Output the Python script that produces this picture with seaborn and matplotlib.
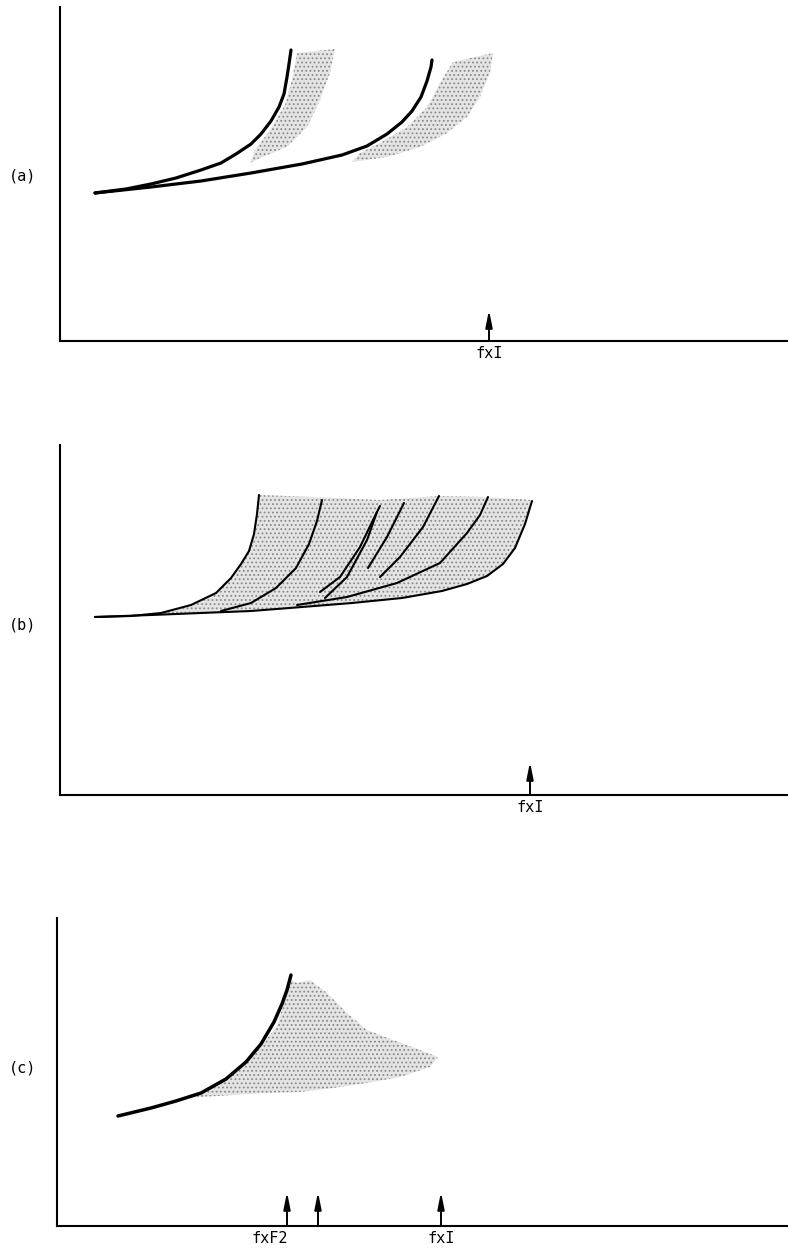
import numpy as np
import matplotlib
matplotlib.use("Agg")
import matplotlib.pyplot as plt
import seaborn as sns

# Schematic curves, arbitrary units: x measured from the y-axis, y from the x-axis
# ---- panel (a) ----
a_left_x = [35, 66, 91, 116, 141, 161, 176, 191, 201, 211, 219, 224, 227, 229, 231]
a_left_y = [148, 152, 157, 163, 171, 178, 187, 197, 207, 220, 234, 247, 264, 277, 291]
a_right_x = [35, 91, 141, 191, 242, 282, 307, 327, 342, 352, 361, 367, 371, 372]
a_right_y = [148, 154, 160, 168, 177, 186, 195, 207, 219, 230, 244, 260, 274, 281]
a_shade1_x = [237, 232, 225, 210, 195, 190, 200, 227, 247, 260, 270, 275]
a_shade1_y = [288, 261, 236, 211, 191, 178, 183, 194, 214, 241, 268, 292]
a_shade2_x = [393, 380, 367, 347, 320, 300, 292, 327, 360, 387, 407, 420, 430, 433]
a_shade2_y = [279, 258, 234, 214, 198, 188, 179, 184, 194, 208, 224, 244, 268, 288]
a_markers = [429]
a_marker_labels = ["fxI"]

# ---- panel (b) ----
b_base_x = [35, 91, 141, 191, 242, 292, 342, 382, 407, 427, 443, 455, 465, 472]
b_base_y = [178, 180, 182, 184, 188, 192, 197, 204, 211, 219, 231, 247, 271, 294]
b_c1_x = [35, 71, 101, 131, 156, 171, 181, 189, 194, 197, 199]
b_c1_y = [178, 179, 182, 190, 202, 217, 231, 244, 261, 281, 300]
b_c2_x = [161, 191, 216, 236, 249, 257, 262]
b_c2_y = [184, 192, 207, 227, 251, 274, 295]
b_c3a_x = [260, 280, 300, 313, 320]
b_c3a_y = [203, 218, 248, 275, 289]
b_c3b_x = [265, 287, 307, 317]
b_c3b_y = [197, 218, 255, 283]
b_c4_x = [308, 327, 344]
b_c4_y = [227, 258, 292]
b_c5_x = [320, 340, 363, 379]
b_c5_y = [218, 238, 268, 299]
b_c6_x = [237, 287, 337, 380, 407, 420, 428]
b_c6_y = [190, 198, 212, 232, 262, 280, 298]
b_top_x = [199, 253, 320, 379, 427, 472]
b_top_y = [300, 298, 295, 299, 298, 295]
b_markers = [470]
b_marker_labels = ["fxI"]

# ---- panel (c) ----
c_curve_x = [61, 94, 119, 144, 169, 189, 204, 217, 225, 230, 234]
c_curve_y = [110, 118, 125, 133, 147, 164, 182, 204, 222, 236, 251]
c_shade_x = [240, 253, 270, 290, 310, 336, 363, 381, 373, 343, 310, 276, 243,
             210, 176, 143, 133, 150, 176, 203, 220, 228, 234]
c_shade_y = [243, 246, 233, 213, 196, 186, 176, 169, 159, 149, 143, 138, 134,
             133, 131, 129, 128, 137, 153, 178, 200, 226, 246]
c_markers = [230, 261, 384]
c_marker_labels = ["fxF2", "", "fxI"]

sns.set_style("white")
plt.rcParams["font.family"] = ["DejaVu Sans Mono", "DejaVu Sans"]
plt.rcParams["hatch.linewidth"] = 0.8
plt.rcParams["text.color"] = "black"

W, H = 788, 1253
fig = plt.figure(figsize=(W / 100, H / 100), dpi=100)

# axes boxes in pixels: (left, x-axis row, y-axis top)
panels = {
    "(a)": (60, 341, 7),
    "(b)": (60, 795, 445),
    "(c)": (57, 1226, 918),
}
label_rows = {"(a)": 176, "(b)": 625, "(c)": 1068}

axes = {}
for name, (left, bottom, top) in panels.items():
    ax = fig.add_axes([left / W, 1 - bottom / H, (W - left) / W, (bottom - top) / H])
    ax.set_xlim(0, W - left)
    ax.set_ylim(0, bottom - top)
    ax.set_xticks([])
    ax.set_yticks([])
    sns.despine(ax=ax)
    for s in ("left", "bottom"):
        ax.spines[s].set_linewidth(1.5)
        ax.spines[s].set_color("black")
    ax.text(23 - left, bottom - label_rows[name], name, ha="center", va="center",
            fontsize=11, color="black", clip_on=False)
    axes[name] = ax

shade_kw = dict(facecolor="#e4e4e4", edgecolor="#8a8a8a", hatch="....", linewidth=0)


def draw(ax, x, y, lw):
    sns.lineplot(x=x, y=y, ax=ax, sort=False, estimator=None, color="black",
                 linewidth=lw, legend=False)


def markers(ax, xs, labels, height, offsets=None):
    for i, (x, lab) in enumerate(zip(xs, labels)):
        ax.annotate("", xy=(x, height), xytext=(x, 0),
                    arrowprops=dict(arrowstyle="-|>,head_length=1.0,head_width=0.2",
                                    lw=1.4, color="black", shrinkA=0, shrinkB=0))
        if lab:
            dx = offsets[i] if offsets else 0
            ax.text(x + dx, -5, lab, ha="center", va="top", fontsize=11, color="black")


# (a)
ax = axes["(a)"]
ax.fill(a_shade1_x, a_shade1_y, **shade_kw)
ax.fill(a_shade2_x, a_shade2_y, **shade_kw)
draw(ax, a_left_x, a_left_y, 2.3)
draw(ax, a_right_x, a_right_y, 2.3)
markers(ax, a_markers, a_marker_labels, 31)

# (b)
ax = axes["(b)"]
ax.fill(b_c1_x + b_top_x[1:] + b_base_x[::-1], b_c1_y + b_top_y[1:] + b_base_y[::-1], **shade_kw)
for cx, cy in [(b_base_x, b_base_y), (b_c1_x, b_c1_y), (b_c2_x, b_c2_y),
               (b_c3a_x, b_c3a_y), (b_c3b_x, b_c3b_y), (b_c4_x, b_c4_y),
               (b_c5_x, b_c5_y), (b_c6_x, b_c6_y)]:
    draw(ax, cx, cy, 1.5)
markers(ax, b_markers, b_marker_labels, 33)

# (c)
ax = axes["(c)"]
ax.fill(c_shade_x, c_shade_y, **shade_kw)
draw(ax, c_curve_x, c_curve_y, 2.5)
markers(ax, c_markers, c_marker_labels, 34, offsets=[-17, 0, 0])

fig.savefig("out.png", dpi=100, facecolor="white")
plt.close(fig)
